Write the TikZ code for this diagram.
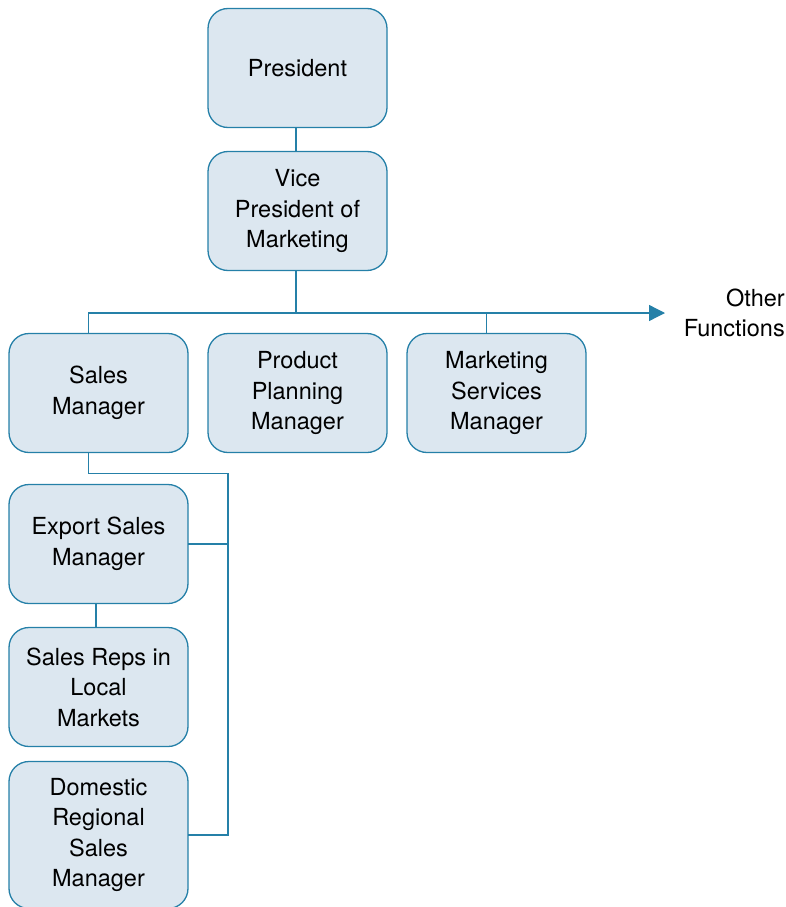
\documentclass[tikz,border=0pt]{standalone}
\usepackage{fontspec}
\setmainfont{TeX Gyre Heros}
\usepackage{xcolor}
\usepackage{tikz}
\usetikzlibrary{arrows.meta, positioning}

\definecolor{boxfill}{HTML}{DCE7F0}
\definecolor{linecol}{HTML}{2580A8}

\begin{document}
\begin{tikzpicture}[
  x=1pt, y=1pt,
  orgbox/.style = {draw=linecol, fill=boxfill, line width=1.3pt,
                   rounded corners=20pt, minimum width=179pt,
                   minimum height=119pt, inner sep=2pt, outer sep=0pt,
                   align=center, font=\fontsize{23.5}{30.5}\selectfont},
  link/.style   = {draw=linecol, line width=1.3pt},
  arr/.style    = {link, -{Triangle[length=16pt, width=16pt]}},
  node distance = 24pt and 20pt,
]
\useasboundingbox (0,0) rectangle (786,-907);

% ── Top of the chart ──────────────────────────────────────────────────────────
\node[orgbox] (pres) at (297.5,-68) {President};
\node[orgbox, below=of pres] (vp) {Vice\\President of\\Marketing};

% ── Marketing managers ────────────────────────────────────────────────────────
\node[orgbox, below=63pt of vp] (prod) {Product\\Planning\\Manager};
\node[orgbox, left=of prod]  (sales) {Sales\\Manager};
\node[orgbox, right=of prod] (mkt)   {Marketing\\Services\\Manager};

% ── Sales branch ──────────────────────────────────────────────────────────────
\node[orgbox, below=32pt of sales] (exp)  {Export Sales\\Manager};
\node[orgbox, below=of exp]        (reps) {Sales Reps in\\Local\\Markets};
\node[orgbox, below=15pt of reps, minimum height=147pt]
      (dom) {Domestic\\Regional\\Sales\\Manager};

% ── Other functions ───────────────────────────────────────────────────────────
\node[anchor=east, align=right, inner sep=0pt,
      font=\fontsize{23.5}{30.5}\selectfont] (other) at (785,-313)
      {Other\\Functions};
\coordinate (tip) at (665,-313);

% ── Connectors ────────────────────────────────────────────────────────────────
\draw[link] ([xshift=-1.5pt]pres.south) -- ([xshift=-1.5pt]vp.north);
\coordinate (bus) at ([shift={(-1.5pt,-43pt)}]vp.south);
\draw[link] ([xshift=-1.5pt]vp.south) -- (bus);
\draw[arr]  ([xshift=-10pt]sales.north) |- (tip);
\draw[link] ([xshift=-10pt]mkt.north) -- ([xshift=-10pt]mkt.north |- bus);

\coordinate (spine) at ([shift={(40pt,-21pt)}]sales.south east);
\draw[link] ([xshift=-10pt]sales.south) |- (spine) -- (spine |- dom.east) -- (dom.east);
\draw[link] (exp.east) -- (exp.east -| spine);
\draw[link] ([xshift=-2.5pt]exp.south) -- ([xshift=-2.5pt]reps.north);

\end{tikzpicture}
\end{document}
